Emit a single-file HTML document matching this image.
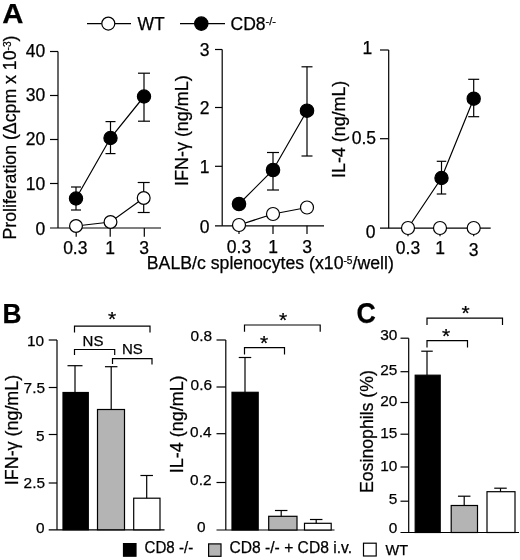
<!DOCTYPE html>
<html lang="en">
<head>
<meta charset="utf-8">
<title>Figure</title>
<style>
html,body{margin:0;padding:0;background:#fff;}
body{width:520px;height:560px;overflow:hidden;}
svg{display:block;}
svg text{font-family:"Liberation Sans",Arial,Helvetica,sans-serif;fill:#000;stroke:#000;stroke-width:0.25px;}
</style>
</head>
<body>
<svg width="520" height="560" viewBox="0 0 520 560">
<rect x="0" y="0" width="520" height="560" fill="#fff"/>
<text x="2.2" y="23" font-size="28.5" font-weight="bold" textLength="21.2" lengthAdjust="spacingAndGlyphs">A</text>
<text x="2.4" y="323" font-size="28.5" font-weight="bold" textLength="19" lengthAdjust="spacingAndGlyphs">B</text>
<text x="356.6" y="323.2" font-size="29.5" font-weight="bold" textLength="19.3" lengthAdjust="spacingAndGlyphs">C</text>
<line x1="87" y1="23.6" x2="131" y2="23.6" stroke="#000" stroke-width="1.2"/>
<circle cx="108.3" cy="23.6" r="6.5" fill="#fff" stroke="#000" stroke-width="1.2"/>
<text x="137.5" y="29.6" font-size="17.5">WT</text>
<line x1="180" y1="23.6" x2="225" y2="23.6" stroke="#000" stroke-width="1.2"/>
<circle cx="201.3" cy="23.6" r="6.7" fill="#000" stroke="#000" stroke-width="1.2"/>
<text x="230.5" y="29.6" font-size="17.5">CD8<tspan font-size="11" dy="-4.3">-/-</tspan></text>
<line x1="58" y1="51.5" x2="58" y2="228" stroke="#000" stroke-width="1.2"/>
<line x1="50" y1="228" x2="161" y2="228" stroke="#000" stroke-width="1.2"/>
<line x1="50" y1="51.5" x2="58" y2="51.5" stroke="#000" stroke-width="1.2"/>
<line x1="50" y1="95.5" x2="58" y2="95.5" stroke="#000" stroke-width="1.2"/>
<line x1="50" y1="139.5" x2="58" y2="139.5" stroke="#000" stroke-width="1.2"/>
<line x1="50" y1="183.5" x2="58" y2="183.5" stroke="#000" stroke-width="1.2"/>
<line x1="76.2" y1="228" x2="76.2" y2="236.8" stroke="#000" stroke-width="1.2"/>
<line x1="110.2" y1="228" x2="110.2" y2="236.8" stroke="#000" stroke-width="1.2"/>
<line x1="144.3" y1="228" x2="144.3" y2="236.8" stroke="#000" stroke-width="1.2"/>
<text x="45.3" y="57" font-size="17.5" text-anchor="end">40</text>
<text x="45.3" y="101" font-size="17.5" text-anchor="end">30</text>
<text x="45.3" y="145" font-size="17.5" text-anchor="end">20</text>
<text x="45.3" y="190.2" font-size="17.5" text-anchor="end">10</text>
<text x="45.3" y="235" font-size="17.5" text-anchor="end">0</text>
<text x="75.3" y="253.8" font-size="17.5" text-anchor="middle">0.3</text>
<text x="110" y="253.8" font-size="17.5" text-anchor="middle">1</text>
<text x="144" y="253.8" font-size="17.5" text-anchor="middle">3</text>
<polyline points="76,198.5 110.5,138 144,96.5" fill="none" stroke="#000" stroke-width="1.2"/>
<polyline points="76,226 110.5,222 143.7,198" fill="none" stroke="#000" stroke-width="1.2"/>
<line x1="76" y1="187" x2="76" y2="210" stroke="#000" stroke-width="1.2"/>
<line x1="71.0" y1="187" x2="81.0" y2="187" stroke="#000" stroke-width="1.2"/>
<line x1="71.0" y1="210" x2="81.0" y2="210" stroke="#000" stroke-width="1.2"/>
<line x1="110.5" y1="121.6" x2="110.5" y2="153.6" stroke="#000" stroke-width="1.2"/>
<line x1="105.5" y1="121.6" x2="115.5" y2="121.6" stroke="#000" stroke-width="1.2"/>
<line x1="105.5" y1="153.6" x2="115.5" y2="153.6" stroke="#000" stroke-width="1.2"/>
<line x1="144" y1="73.2" x2="144" y2="121.2" stroke="#000" stroke-width="1.2"/>
<line x1="138.0" y1="73.2" x2="150.0" y2="73.2" stroke="#000" stroke-width="1.2"/>
<line x1="138.0" y1="121.2" x2="150.0" y2="121.2" stroke="#000" stroke-width="1.2"/>
<line x1="143.7" y1="182.5" x2="143.7" y2="212.5" stroke="#000" stroke-width="1.2"/>
<line x1="137.7" y1="182.5" x2="149.7" y2="182.5" stroke="#000" stroke-width="1.2"/>
<line x1="137.7" y1="212.5" x2="149.7" y2="212.5" stroke="#000" stroke-width="1.2"/>
<circle cx="76" cy="198.5" r="6.6" fill="#000" stroke="#000" stroke-width="1.2"/>
<circle cx="110.5" cy="138" r="6.6" fill="#000" stroke="#000" stroke-width="1.2"/>
<circle cx="144" cy="96.5" r="6.6" fill="#000" stroke="#000" stroke-width="1.2"/>
<circle cx="76" cy="226" r="6.4" fill="#fff" stroke="#000" stroke-width="1.2"/>
<circle cx="110.5" cy="222" r="6.4" fill="#fff" stroke="#000" stroke-width="1.2"/>
<circle cx="143.7" cy="198" r="6.4" fill="#fff" stroke="#000" stroke-width="1.2"/>
<text x="16.4" y="239.5" font-size="17.5" transform="rotate(-90 16.4 239.5)" textLength="204" lengthAdjust="spacingAndGlyphs">Proliferation (Δcpm x 10<tspan font-size="10" dy="-5.5">-3</tspan><tspan dy="5.5">)</tspan></text>
<line x1="222.2" y1="49.5" x2="222.2" y2="225.8" stroke="#000" stroke-width="1.2"/>
<line x1="215" y1="225.8" x2="324" y2="225.8" stroke="#000" stroke-width="1.2"/>
<line x1="215" y1="49.5" x2="222.2" y2="49.5" stroke="#000" stroke-width="1.2"/>
<line x1="215" y1="107.5" x2="222.2" y2="107.5" stroke="#000" stroke-width="1.2"/>
<line x1="215" y1="166.3" x2="222.2" y2="166.3" stroke="#000" stroke-width="1.2"/>
<line x1="239" y1="225.8" x2="239" y2="234" stroke="#000" stroke-width="1.2"/>
<line x1="273" y1="225.8" x2="273" y2="234" stroke="#000" stroke-width="1.2"/>
<line x1="307" y1="225.8" x2="307" y2="234" stroke="#000" stroke-width="1.2"/>
<text x="209.6" y="55.5" font-size="17.5" text-anchor="end">3</text>
<text x="209.6" y="114.3" font-size="17.5" text-anchor="end">2</text>
<text x="209.6" y="173" font-size="17.5" text-anchor="end">1</text>
<text x="209.6" y="232.6" font-size="17.5" text-anchor="end">0</text>
<text x="239" y="252.9" font-size="17.5" text-anchor="middle">0.3</text>
<text x="273" y="252.9" font-size="17.5" text-anchor="middle">1</text>
<text x="307" y="252.9" font-size="17.5" text-anchor="middle">3</text>
<polyline points="239,204 273,170 307,110.7" fill="none" stroke="#000" stroke-width="1.2"/>
<polyline points="239,225 273,214 307,207.5" fill="none" stroke="#000" stroke-width="1.2"/>
<line x1="273" y1="152.5" x2="273" y2="190" stroke="#000" stroke-width="1.2"/>
<line x1="267.0" y1="152.5" x2="279.0" y2="152.5" stroke="#000" stroke-width="1.2"/>
<line x1="267.0" y1="190" x2="279.0" y2="190" stroke="#000" stroke-width="1.2"/>
<line x1="307" y1="66.8" x2="307" y2="156" stroke="#000" stroke-width="1.2"/>
<line x1="301.5" y1="66.8" x2="312.5" y2="66.8" stroke="#000" stroke-width="1.2"/>
<line x1="301.5" y1="156" x2="312.5" y2="156" stroke="#000" stroke-width="1.2"/>
<circle cx="239" cy="204" r="6.7" fill="#000" stroke="#000" stroke-width="1.2"/>
<circle cx="273" cy="170" r="6.7" fill="#000" stroke="#000" stroke-width="1.2"/>
<circle cx="307" cy="110.7" r="6.7" fill="#000" stroke="#000" stroke-width="1.2"/>
<circle cx="239" cy="225" r="6.5" fill="#fff" stroke="#000" stroke-width="1.2"/>
<circle cx="273" cy="214" r="6.5" fill="#fff" stroke="#000" stroke-width="1.2"/>
<circle cx="307" cy="207.5" r="6.5" fill="#fff" stroke="#000" stroke-width="1.2"/>
<text x="188.3" y="186" font-size="17.5" transform="rotate(-90 188.3 186)" textLength="110.8" lengthAdjust="spacingAndGlyphs">IFN-γ (ng/mL)</text>
<line x1="388.7" y1="50" x2="388.7" y2="228.2" stroke="#000" stroke-width="1.2"/>
<line x1="380" y1="228.2" x2="490.7" y2="228.2" stroke="#000" stroke-width="1.2"/>
<line x1="380" y1="50" x2="388.7" y2="50" stroke="#000" stroke-width="1.2"/>
<line x1="380" y1="138.7" x2="388.7" y2="138.7" stroke="#000" stroke-width="1.2"/>
<line x1="408" y1="228.2" x2="408" y2="236.3" stroke="#000" stroke-width="1.2"/>
<line x1="440" y1="228.2" x2="440" y2="236.3" stroke="#000" stroke-width="1.2"/>
<line x1="473.7" y1="228.2" x2="473.7" y2="236.3" stroke="#000" stroke-width="1.2"/>
<text x="372.2" y="53.8" font-size="17.5" text-anchor="end">1</text>
<text x="376" y="144" font-size="17.5" text-anchor="end">0.5</text>
<text x="375.5" y="238" font-size="17.5" text-anchor="end">0</text>
<text x="408" y="253.7" font-size="17.5" text-anchor="middle">0.3</text>
<text x="440" y="253.7" font-size="17.5" text-anchor="middle">1</text>
<text x="473.7" y="256" font-size="17.5" text-anchor="middle">3</text>
<polyline points="408,228 441.5,178 473.7,98.7" fill="none" stroke="#000" stroke-width="1.2"/>
<line x1="441.5" y1="161.3" x2="441.5" y2="194" stroke="#000" stroke-width="1.2"/>
<line x1="436.75" y1="161.3" x2="446.25" y2="161.3" stroke="#000" stroke-width="1.2"/>
<line x1="436.75" y1="194" x2="446.25" y2="194" stroke="#000" stroke-width="1.2"/>
<line x1="473.7" y1="79.3" x2="473.7" y2="116.7" stroke="#000" stroke-width="1.2"/>
<line x1="468.2" y1="79.3" x2="479.2" y2="79.3" stroke="#000" stroke-width="1.2"/>
<line x1="468.2" y1="116.7" x2="479.2" y2="116.7" stroke="#000" stroke-width="1.2"/>
<circle cx="441.5" cy="178" r="6.6" fill="#000" stroke="#000" stroke-width="1.2"/>
<circle cx="473.7" cy="98.7" r="6.6" fill="#000" stroke="#000" stroke-width="1.2"/>
<circle cx="408" cy="228" r="6.5" fill="#fff" stroke="#000" stroke-width="1.2"/>
<circle cx="440" cy="228" r="6.5" fill="#fff" stroke="#000" stroke-width="1.2"/>
<circle cx="473.7" cy="228" r="6.5" fill="#fff" stroke="#000" stroke-width="1.2"/>
<text x="345" y="178" font-size="17.5" transform="rotate(-90 345 178)" textLength="97.3" lengthAdjust="spacingAndGlyphs">IL-4 (ng/mL)</text>
<text x="146.8" y="269.3" font-size="17.5" textLength="247" lengthAdjust="spacingAndGlyphs">BALB/c splenocytes (x10<tspan font-size="10" dy="-5.5">-5</tspan><tspan dy="5.5">/well)</tspan></text>
<line x1="57" y1="340" x2="57" y2="529.8" stroke="#000" stroke-width="1.2"/>
<line x1="48.7" y1="529.8" x2="164.5" y2="529.8" stroke="#000" stroke-width="1.2"/>
<line x1="48.7" y1="340" x2="57" y2="340" stroke="#000" stroke-width="1.2"/>
<line x1="48.7" y1="387.5" x2="57" y2="387.5" stroke="#000" stroke-width="1.2"/>
<line x1="48.7" y1="434.5" x2="57" y2="434.5" stroke="#000" stroke-width="1.2"/>
<line x1="48.7" y1="483" x2="57" y2="483" stroke="#000" stroke-width="1.2"/>
<text x="44.2" y="345.5" font-size="15.4" text-anchor="end">10</text>
<text x="45" y="392.5" font-size="15.4" text-anchor="end">7.5</text>
<text x="44.5" y="441.2" font-size="15.4" text-anchor="end">5</text>
<text x="45" y="488" font-size="15.4" text-anchor="end">2.5</text>
<text x="44.5" y="532.7" font-size="15.4" text-anchor="end">0</text>
<line x1="75" y1="365.7" x2="75" y2="392" stroke="#000" stroke-width="1.2"/>
<line x1="67.5" y1="365.7" x2="82.5" y2="365.7" stroke="#000" stroke-width="1.2"/>
<rect x="63" y="392.5" width="25.3" height="137.3" fill="#000" stroke="#000" stroke-width="1.2"/>
<line x1="111.2" y1="366.7" x2="111.2" y2="410" stroke="#000" stroke-width="1.2"/>
<line x1="104.95" y1="366.7" x2="117.45" y2="366.7" stroke="#000" stroke-width="1.2"/>
<rect x="97.5" y="409.5" width="27.0" height="120.3" fill="#b4b4b4" stroke="#000" stroke-width="1.2"/>
<line x1="146.7" y1="475.5" x2="146.7" y2="499" stroke="#000" stroke-width="1.2"/>
<line x1="140.45" y1="475.5" x2="152.95" y2="475.5" stroke="#000" stroke-width="1.2"/>
<rect x="133.7" y="498.2" width="26.3" height="31.6" fill="#fff" stroke="#000" stroke-width="1.2"/>
<polyline points="74.5,332.5 74.5,326.2 150,326.2 150,332.5" fill="none" stroke="#000" stroke-width="1.2"/>
<polyline points="74.5,355 74.5,349.5 114.7,349.5 114.7,355" fill="none" stroke="#000" stroke-width="1.2"/>
<polyline points="112.5,364 112.5,358.7 152,358.7 152,364.5" fill="none" stroke="#000" stroke-width="1.2"/>
<text x="112" y="326" font-size="21" text-anchor="middle" stroke="#000" stroke-width="0.35">*</text>
<text x="82.6" y="346.2" font-size="15">NS</text>
<text x="122" y="354.2" font-size="15">NS</text>
<text x="18.5" y="485.2" font-size="17.5" transform="rotate(-90 18.5 485.2)" textLength="110.4" lengthAdjust="spacingAndGlyphs">IFN-γ (ng/mL)</text>
<line x1="225.8" y1="340" x2="225.8" y2="530" stroke="#000" stroke-width="1.2"/>
<line x1="216.5" y1="530" x2="334.5" y2="530" stroke="#000" stroke-width="1.2"/>
<line x1="216.5" y1="340" x2="225.8" y2="340" stroke="#000" stroke-width="1.2"/>
<line x1="216.5" y1="387" x2="225.8" y2="387" stroke="#000" stroke-width="1.2"/>
<line x1="216.5" y1="433.7" x2="225.8" y2="433.7" stroke="#000" stroke-width="1.2"/>
<line x1="216.5" y1="482.5" x2="225.8" y2="482.5" stroke="#000" stroke-width="1.2"/>
<text x="212" y="340.7" font-size="15.4" text-anchor="end">0.8</text>
<text x="212" y="390" font-size="15.4" text-anchor="end">0.6</text>
<text x="211.5" y="436.5" font-size="15.4" text-anchor="end">0.4</text>
<text x="211.5" y="484.5" font-size="15.4" text-anchor="end">0.2</text>
<text x="205.5" y="532.2" font-size="15.4" text-anchor="end">0</text>
<line x1="245" y1="357.5" x2="245" y2="392" stroke="#000" stroke-width="1.2"/>
<line x1="238.75" y1="357.5" x2="251.25" y2="357.5" stroke="#000" stroke-width="1.2"/>
<rect x="232" y="392.3" width="26.2" height="137.7" fill="#000" stroke="#000" stroke-width="1.2"/>
<line x1="281.2" y1="510.5" x2="281.2" y2="517" stroke="#000" stroke-width="1.2"/>
<line x1="274.95" y1="510.5" x2="287.45" y2="510.5" stroke="#000" stroke-width="1.2"/>
<rect x="268.7" y="516.3" width="28.3" height="13.7" fill="#b4b4b4" stroke="#000" stroke-width="1.2"/>
<line x1="316.2" y1="519.5" x2="316.2" y2="524" stroke="#000" stroke-width="1.2"/>
<line x1="309.95" y1="519.5" x2="322.45" y2="519.5" stroke="#000" stroke-width="1.2"/>
<rect x="304.5" y="523.3" width="26.7" height="6.7" fill="#fff" stroke="#000" stroke-width="1.2"/>
<polyline points="244.5,331.7 244.5,325 320.2,325 320.2,331.7" fill="none" stroke="#000" stroke-width="1.2"/>
<polyline points="244.5,354.5 244.5,347.7 284.5,347.7 284.5,354.5" fill="none" stroke="#000" stroke-width="1.2"/>
<text x="283.2" y="327.4" font-size="21" text-anchor="middle" stroke="#000" stroke-width="0.35">*</text>
<text x="264" y="350.3" font-size="21" text-anchor="middle" stroke="#000" stroke-width="0.35">*</text>
<text x="183" y="473.2" font-size="17.5" transform="rotate(-90 183 473.2)" textLength="97.8" lengthAdjust="spacingAndGlyphs">IL-4 (ng/mL)</text>
<line x1="408.7" y1="338.2" x2="408.7" y2="532.5" stroke="#000" stroke-width="1.2"/>
<line x1="400.5" y1="532.5" x2="519" y2="532.5" stroke="#000" stroke-width="1.2"/>
<line x1="400.5" y1="338.2" x2="408.7" y2="338.2" stroke="#000" stroke-width="1.2"/>
<line x1="400.5" y1="371.7" x2="408.7" y2="371.7" stroke="#000" stroke-width="1.2"/>
<line x1="400.5" y1="402.5" x2="408.7" y2="402.5" stroke="#000" stroke-width="1.2"/>
<line x1="400.5" y1="434.2" x2="408.7" y2="434.2" stroke="#000" stroke-width="1.2"/>
<line x1="400.5" y1="467" x2="408.7" y2="467" stroke="#000" stroke-width="1.2"/>
<line x1="400.5" y1="501.2" x2="408.7" y2="501.2" stroke="#000" stroke-width="1.2"/>
<text x="397.3" y="339.7" font-size="15.4" text-anchor="end">30</text>
<text x="397.3" y="375.4" font-size="15.4" text-anchor="end">25</text>
<text x="397.3" y="405.6" font-size="15.4" text-anchor="end">20</text>
<text x="397.3" y="438.4" font-size="15.4" text-anchor="end">15</text>
<text x="397.3" y="470.6" font-size="15.4" text-anchor="end">10</text>
<text x="397.3" y="504" font-size="15.4" text-anchor="end">5</text>
<text x="397.3" y="533.2" font-size="15.4" text-anchor="end">0</text>
<line x1="427" y1="351.2" x2="427" y2="375" stroke="#000" stroke-width="1.2"/>
<line x1="421.25" y1="351.2" x2="432.75" y2="351.2" stroke="#000" stroke-width="1.2"/>
<rect x="415.2" y="375.2" width="25.0" height="157.3" fill="#000" stroke="#000" stroke-width="1.2"/>
<line x1="464.2" y1="496.2" x2="464.2" y2="506" stroke="#000" stroke-width="1.2"/>
<line x1="457.95" y1="496.2" x2="470.45" y2="496.2" stroke="#000" stroke-width="1.2"/>
<rect x="451.2" y="505.5" width="26.3" height="27.0" fill="#b4b4b4" stroke="#000" stroke-width="1.2"/>
<line x1="500.5" y1="488.2" x2="500.5" y2="492" stroke="#000" stroke-width="1.2"/>
<line x1="494.25" y1="488.2" x2="506.75" y2="488.2" stroke="#000" stroke-width="1.2"/>
<rect x="487" y="491.7" width="28" height="40.8" fill="#fff" stroke="#000" stroke-width="1.2"/>
<polyline points="427,325 427,318.2 502.5,318.2 502.5,325" fill="none" stroke="#000" stroke-width="1.2"/>
<polyline points="427,347.5 427,340.7 467.5,340.7 467.5,347.5" fill="none" stroke="#000" stroke-width="1.2"/>
<text x="465.7" y="319.8" font-size="21" text-anchor="middle" stroke="#000" stroke-width="0.35">*</text>
<text x="446.2" y="343.1" font-size="21" text-anchor="middle" stroke="#000" stroke-width="0.35">*</text>
<text x="373" y="493" font-size="17.5" transform="rotate(-90 373 493)" textLength="122.8" lengthAdjust="spacingAndGlyphs">Eosinophils (%)</text>
<rect x="123.5" y="543.6" width="12.5" height="12.6" fill="#000" stroke="#000" stroke-width="1.2"/>
<text x="144.5" y="552.7" font-size="15.8" textLength="48.7" lengthAdjust="spacingAndGlyphs">CD8 -/-</text>
<rect x="208.6" y="543.9" width="12.4" height="12.4" fill="#b4b4b4" stroke="#000" stroke-width="1.2"/>
<text x="229.5" y="552.7" font-size="15.8" textLength="122.5" lengthAdjust="spacingAndGlyphs">CD8 -/- + CD8 i.v.</text>
<rect x="363.5" y="543.2" width="12.7" height="12.8" fill="#fff" stroke="#000" stroke-width="1.2"/>
<text x="385.5" y="555.3" font-size="14.5">WT</text>
</svg>
</body>
</html>
